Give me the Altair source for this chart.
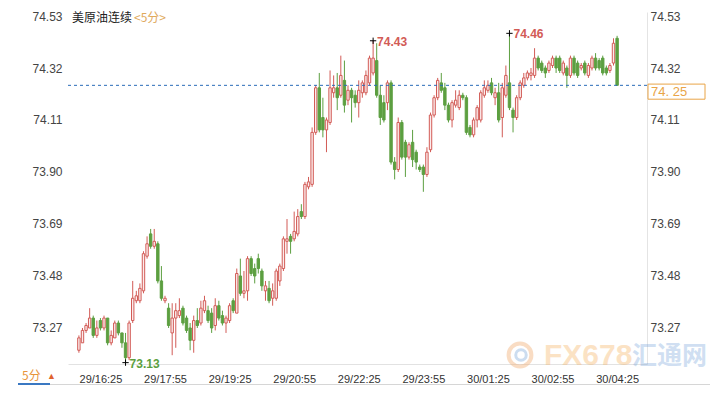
import altair as alt
import pandas as pd

# ---------------- data (5-minute candles) ----------------
OPEN = [73.18, 73.21, 73.26, 73.27, 73.31, 73.24, 73.30, 73.27, 73.31, 73.21,
        73.23, 73.29, 73.25, 73.21, 73.15, 73.30, 73.38, 73.38, 73.42, 73.56,
        73.65, 73.60, 73.61, 73.46, 73.38, 73.35, 73.25, 73.31, 73.32, 73.35,
        73.31, 73.27, 73.22, 73.30, 73.29, 73.34, 73.34, 73.33, 73.28, 73.36,
        73.32, 73.29, 73.30, 73.38, 73.33, 73.48, 73.41, 73.42, 73.55, 73.51,
        73.55, 73.50, 73.42, 73.43, 73.39, 73.39, 73.46, 73.51, 73.62, 73.64,
        73.63, 73.65, 73.74, 73.72, 73.84, 73.85, 74.06, 74.24, 74.12, 74.07,
        74.10, 74.22, 74.24, 74.21, 74.27, 74.19, 74.23, 74.21, 74.18, 74.22,
        74.22, 74.26, 74.30, 74.35, 74.21, 74.18, 74.18, 74.26, 73.94, 73.91,
        74.10, 74.02, 73.96, 74.02, 73.98, 73.92, 73.92, 73.89, 73.99, 74.13,
        74.20, 74.26, 74.24, 74.17, 74.11, 74.17, 74.16, 74.21, 74.20, 74.08,
        74.05, 74.11, 74.11, 74.21, 74.23, 74.26, 74.20, 74.22, 74.12, 74.21,
        74.26, 74.15, 74.12, 74.20, 74.25, 74.28, 74.29, 74.29, 74.36, 74.34,
        74.32, 74.31, 74.33, 74.36, 74.36, 74.30, 74.32, 74.29, 74.36, 74.34,
        74.32, 74.34, 74.29, 74.32, 74.36, 74.35, 74.36, 74.32, 74.31, 74.34,
        74.44]
HIGH = [73.24, 73.27, 73.29, 73.35, 73.32, 73.30, 73.31, 73.32, 73.31, 73.26,
        73.30, 73.30, 73.25, 73.25, 73.30, 73.46, 73.42, 73.45, 73.58, 73.64,
        73.67, 73.67, 73.62, 73.52, 73.40, 73.37, 73.37, 73.37, 73.39, 73.36,
        73.32, 73.29, 73.32, 73.35, 73.38, 73.40, 73.36, 73.35, 73.39, 73.38,
        73.34, 73.32, 73.37, 73.39, 73.51, 73.55, 73.50, 73.56, 73.56, 73.53,
        73.57, 73.51, 73.46, 73.46, 73.45, 73.51, 73.53, 73.64, 73.71, 73.65,
        73.74, 73.75, 73.77, 73.86, 73.88, 74.08, 74.25, 74.30, 74.20, 74.12,
        74.31, 74.29, 74.30, 74.37, 74.35, 74.25, 74.24, 74.23, 74.27, 74.27,
        74.31, 74.37, 74.43, 74.42, 74.25, 74.21, 74.27, 74.27, 73.96, 74.12,
        74.11, 74.03, 74.02, 74.07, 73.99, 73.93, 73.93, 74.00, 74.14, 74.21,
        74.28, 74.30, 74.26, 74.18, 74.19, 74.23, 74.23, 74.22, 74.21, 74.09,
        74.12, 74.17, 74.23, 74.27, 74.27, 74.28, 74.24, 74.26, 74.26, 74.33,
        74.46, 74.16, 74.21, 74.27, 74.30, 74.31, 74.32, 74.40, 74.37, 74.35,
        74.33, 74.35, 74.37, 74.37, 74.37, 74.35, 74.33, 74.37, 74.37, 74.35,
        74.34, 74.35, 74.34, 74.37, 74.38, 74.36, 74.37, 74.33, 74.34, 74.44,
        74.45]
LOW = [73.17, 73.21, 73.25, 73.27, 73.23, 73.23, 73.26, 73.26, 73.20, 73.20,
       73.23, 73.24, 73.19, 73.13, 73.14, 73.29, 73.37, 73.37, 73.41, 73.55,
       73.59, 73.59, 73.45, 73.38, 73.37, 73.27, 73.16, 73.19, 73.31, 73.28,
       73.25, 73.18, 73.17, 73.27, 73.28, 73.33, 73.29, 73.25, 73.26, 73.30,
       73.28, 73.25, 73.29, 73.33, 73.33, 73.40, 73.39, 73.38, 73.48, 73.45,
       73.49, 73.42, 73.38, 73.37, 73.36, 73.38, 73.44, 73.50, 73.57, 73.57,
       73.62, 73.64, 73.71, 73.71, 73.83, 73.84, 74.05, 74.06, 74.04, 73.98,
       74.09, 74.20, 74.15, 74.20, 74.14, 74.17, 74.10, 74.16, 74.12, 74.20,
       74.21, 74.25, 74.29, 74.20, 74.09, 74.10, 74.15, 73.93, 73.87, 73.90,
       73.95, 73.88, 73.95, 73.92, 73.91, 73.90, 73.82, 73.88, 73.98, 74.12,
       74.19, 74.22, 74.15, 74.10, 74.08, 74.16, 74.15, 74.19, 74.05, 74.04,
       74.04, 74.08, 74.10, 74.20, 74.22, 74.21, 74.17, 74.10, 74.04, 74.20,
       74.15, 74.06, 74.11, 74.19, 74.24, 74.27, 74.27, 74.28, 74.31, 74.30,
       74.28, 74.30, 74.32, 74.30, 74.30, 74.29, 74.24, 74.28, 74.29, 74.28,
       74.31, 74.29, 74.28, 74.31, 74.31, 74.31, 74.29, 74.29, 74.30, 74.33,
       74.25]
CLOSE = [73.23, 73.26, 73.28, 73.31, 73.24, 73.27, 73.27, 73.31, 73.21, 73.24,
         73.29, 73.25, 73.21, 73.15, 73.29, 73.39, 73.40, 73.43, 73.57, 73.61,
         73.60, 73.62, 73.46, 73.39, 73.39, 73.28, 73.31, 73.34, 73.34, 73.29,
         73.26, 73.22, 73.30, 73.28, 73.35, 73.38, 73.30, 73.27, 73.36, 73.31,
         73.29, 73.31, 73.36, 73.34, 73.49, 73.41, 73.42, 73.55, 73.49, 73.48,
         73.51, 73.44, 73.44, 73.38, 73.42, 73.50, 73.52, 73.63, 73.63, 73.62,
         73.66, 73.72, 73.72, 73.85, 73.86, 74.06, 74.24, 74.07, 74.07, 74.11,
         74.24, 74.24, 74.20, 74.29, 74.17, 74.23, 74.20, 74.18, 74.23, 74.26,
         74.29, 74.36, 74.36, 74.21, 74.12, 74.11, 74.26, 73.94, 73.91, 74.10,
         73.96, 73.96, 74.01, 73.95, 73.94, 73.91, 73.89, 73.98, 74.13, 74.20,
         74.27, 74.23, 74.17, 74.11, 74.18, 74.19, 74.21, 74.20, 74.06, 74.05,
         74.11, 74.16, 74.22, 74.24, 74.25, 74.22, 74.22, 74.11, 74.24, 74.29,
         74.16, 74.12, 74.20, 74.26, 74.28, 74.30, 74.30, 74.36, 74.32, 74.31,
         74.30, 74.34, 74.36, 74.32, 74.31, 74.34, 74.29, 74.36, 74.30, 74.29,
         74.33, 74.30, 74.33, 74.36, 74.32, 74.32, 74.30, 74.30, 74.33, 74.42,
         74.25]

TICK_INDEX = [6, 24, 42, 60, 78, 96, 114, 132, 150]
TICK_LABELS = ["29/16:25", "29/17:55", "29/19:25", "29/20:55", "29/22:25",
               "29/23:55", "30/01:25", "30/02:55", "30/04:25"]
Y_TICKS = [73.27, 73.48, 73.69, 73.90, 74.11, 74.32, 74.53]
LAST_PRICE = 74.25
MARK_INDEX = [82, 120, 13]
MARK_KIND = ["high", "high", "low"]

TITLE_MAIN = "美原油连续"
TITLE_PERIOD = "<5分>"

# ---------------- styling ----------------
UP = "#d25b56"
UP_FILL = "#fbecec"
DOWN = "#5c9f40"
FONT = "Liberation Sans"
CJK = "Noto Sans CJK SC"
W, H = 579, 352

df = pd.DataFrame({"i": list(range(len(OPEN))), "open": OPEN, "high": HIGH,
                   "low": LOW, "close": CLOSE})
df["dir"] = ["up" if c >= o else "down" for o, c in zip(OPEN, CLOSE)]

ann = pd.DataFrame({
    "i": MARK_INDEX,
    "price": [HIGH[k] if kind == "high" else LOW[k] for k, kind in zip(MARK_INDEX, MARK_KIND)],
})
ann["label"] = [f"{p:.2f}" for p in ann["price"]]
ann["col"] = [UP if kind == "high" else DOWN for kind in MARK_KIND]

xs = alt.Scale(domain=[-1.643, 156.94], nice=False, zero=False)
ys = alt.Scale(domain=[73.1245, 74.5462], nice=False, zero=False)
dir_stroke = alt.Scale(domain=["up", "down"], range=[UP, DOWN])
dir_fill = alt.Scale(domain=["up", "down"], range=[UP_FILL, DOWN])

label_expr = ("[" + ",".join(f"'{t}'" for t in TICK_LABELS) + "][indexof(["
              + ",".join(str(v) for v in TICK_INDEX) + "], datum.value)]")

x_axis = alt.Axis(values=TICK_INDEX, labelExpr=label_expr, grid=False, ticks=False,
                  tickSize=0, domain=True, domainColor="#e2e2e2", labelFontSize=11,
                  labelColor="#333333", labelFont=FONT, labelPadding=9,
                  labelFlush=False, labelOverlap=False, title=None)
y_left = alt.Axis(orient="left", values=Y_TICKS, format=".2f", grid=False, ticks=False,
                  tickSize=0, domain=False, labelPadding=6, labelFontSize=12,
                  labelColor="#444444", labelFont=FONT, labelFlush=False, title=None)
y_right = alt.Axis(orient="right", values=Y_TICKS, format=".2f", grid=False, ticks=False,
                   tickSize=0, domain=True, domainColor="#e4e4e4", labelPadding=3,
                   labelFontSize=12, labelColor="#444444", labelFont=FONT,
                   labelFlush=False, title=None)

base = alt.Chart(df)

wicks = base.mark_rule(strokeWidth=1).encode(
    x=alt.X("i:Q", scale=xs, axis=x_axis),
    y=alt.Y("low:Q", scale=ys, axis=y_left),
    y2="high:Q",
    color=alt.Color("dir:N", scale=dir_stroke, legend=None),
)

bodies = base.mark_bar(size=2.4, strokeWidth=1).encode(
    x=alt.X("i:Q", scale=xs, axis=None),
    y=alt.Y("open:Q", scale=ys, axis=y_right),
    y2="close:Q",
    fill=alt.Fill("dir:N", scale=dir_fill, legend=None),
    stroke=alt.Stroke("dir:N", scale=dir_stroke, legend=None),
)

last_line = alt.Chart(pd.DataFrame({"p": [LAST_PRICE]})).mark_rule(
    strokeDash=[3, 3], color="#2a6cb8", strokeWidth=1
).encode(y=alt.Y("p:Q", scale=ys, axis=None))

box_df = pd.DataFrame({"top": [LAST_PRICE + 0.005], "bot": [LAST_PRICE - 0.056],
                       "mid": [LAST_PRICE - 0.026],
                       "txt": [f"{LAST_PRICE:.2f}".replace(".", ". ")]})
last_box = alt.Chart(box_df).mark_rect(fill="white", stroke="#e9a447", strokeWidth=1).encode(
    x=alt.value(580), x2=alt.value(637),
    y=alt.Y("top:Q", scale=ys, axis=None), y2="bot:Q",
)
last_text = alt.Chart(box_df).mark_text(
    align="left", baseline="middle", color="#e9a447", fontSize=13, font=FONT
).encode(x=alt.value(583), y=alt.Y("mid:Q", scale=ys, axis=None), text="txt:N")

cross = alt.Chart(ann).mark_point(
    shape="M-1,0L1,0M0,-1L0,1", size=40, filled=False, stroke="black", strokeWidth=1, opacity=1
).encode(x=alt.X("i:Q", scale=xs, axis=None), y=alt.Y("price:Q", scale=ys, axis=None))

ann_text = alt.Chart(ann).mark_text(
    align="left", baseline="middle", dx=4, dy=1, fontSize=12, font=FONT, fontWeight="bold"
).encode(
    x=alt.X("i:Q", scale=xs, axis=None), y=alt.Y("price:Q", scale=ys, axis=None),
    text="label:N", color=alt.Color("col:N", scale=None),
)

title_df = pd.DataFrame({"a": [TITLE_MAIN], "b": [TITLE_PERIOD]})
title1 = alt.Chart(title_df).mark_text(
    align="left", baseline="middle", fontSize=12, font=CJK, color="#222222"
).encode(x=alt.value(4), y=alt.value(6), text="a:N")
title2 = alt.Chart(title_df).mark_text(
    align="left", baseline="middle", fontSize=12, font=CJK, color="#e0a95c"
).encode(x=alt.value(66), y=alt.value(6), text="b:N")

period_df = pd.DataFrame({"t": ["5分"], "arrow": ["▲"]})
period = alt.Chart(period_df).mark_text(
    align="left", baseline="middle", fontSize=12, font=CJK, color="#e8953a"
).encode(x=alt.value(-46), y=alt.value(364), text="t:N")
period_arrow = alt.Chart(period_df).mark_text(
    align="left", baseline="middle", fontSize=9, font=FONT, color="#e0632e"
).encode(x=alt.value(-21), y=alt.value(364), text="arrow:N")
underline = alt.Chart(period_df).mark_rule(color="#3a78c2", strokeWidth=2).encode(
    x=alt.value(-50), x2=alt.value(-18), y=alt.value(372)
)
baseline_rule = alt.Chart(period_df).mark_rule(color="#d6d6d6", strokeWidth=1).encode(
    x=alt.value(-18), x2=alt.value(642), y=alt.value(372.5)
)

wm_df = pd.DataFrame({"a": ["FX678"], "b": ["汇通网"]})
wm_ring = alt.Chart(wm_df).mark_point(
    shape="circle", size=520, filled=False, stroke="#f2b27c", strokeWidth=4, opacity=0.45
).encode(x=alt.value(452), y=alt.value(343))
wm_ring2 = alt.Chart(wm_df).mark_point(
    shape="circle", size=110, filled=False, stroke="#8fb5e0", strokeWidth=3, opacity=0.45
).encode(x=alt.value(453), y=alt.value(343))
wm_fx = alt.Chart(wm_df).mark_text(
    align="left", baseline="middle", fontSize=30, font=FONT, fontWeight="bold",
    color="#f6b567", opacity=0.38
).encode(x=alt.value(476), y=alt.value(344), text="a:N")
wm_cn = alt.Chart(wm_df).mark_text(
    align="left", baseline="middle", fontSize=25, font=CJK, fontWeight="bold",
    color="#6f9fd8", opacity=0.32
).encode(x=alt.value(564), y=alt.value(344), text="b:N")

chart = alt.layer(
    wm_ring, wm_ring2, wm_fx, wm_cn,
    wicks, bodies, last_line, last_box, last_text, cross, ann_text,
    title1, title2, period, period_arrow, underline, baseline_rule,
).resolve_axis(x="independent", y="independent").properties(
    width=W, height=H,
    autosize=alt.AutoSizeParams(type="none"),
    padding={"left": 60, "top": 4, "right": 71, "bottom": 22},
    background="white",
).configure_view(stroke=None)

chart.save("out.html", embed_options={"renderer": "svg", "actions": False})
